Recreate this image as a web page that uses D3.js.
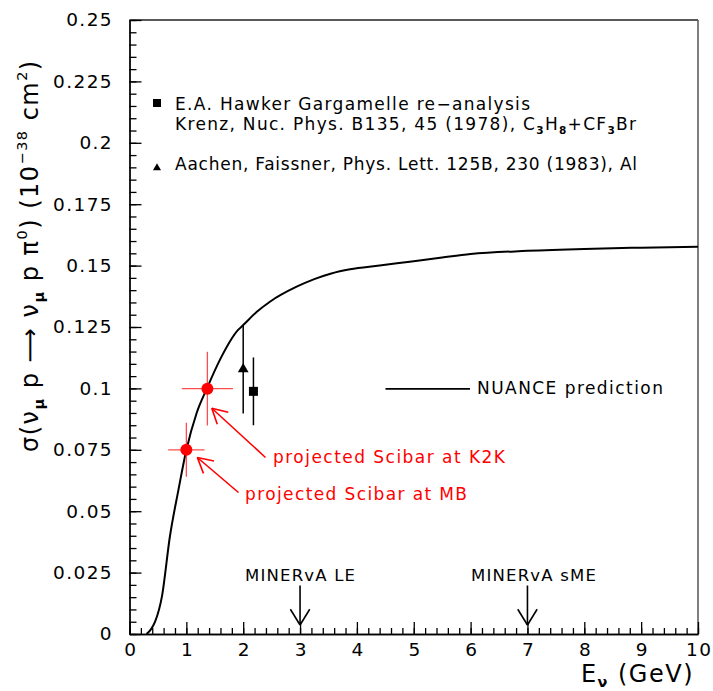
<!DOCTYPE html>
<html><head><meta charset="utf-8">
<script src="https://cdn.jsdelivr.net/npm/d3@7"></script>
<style>
body{margin:0;background:#fff}
svg{display:block}
text{font-family:"DejaVu Sans",sans-serif}
</style>
</head><body>
<svg id="c" width="713" height="691"></svg>
<script>
// ---------- data ----------
const curveE     = [0.30, 0.38, 0.45, 0.57, 0.71, 0.86, 1.00, 1.18, 1.36, 1.59, 1.91, 2.00, 2.24, 2.47, 2.94, 3.25, 3.55, 3.88, 4.40, 4.93, 5.50, 6.00, 7.00, 8.00, 9.00, 10.0];
const curveSigma = [0.000, 0.002, 0.005, 0.0152, 0.0396, 0.0586, 0.0749, 0.0899, 0.0999, 0.1116, 0.1238, 0.1258, 0.1312, 0.1353, 0.1414, 0.1445, 0.1468, 0.1485, 0.1500, 0.1516, 0.1533, 0.1547, 0.1560, 0.1568, 0.1573, 0.1577];

const xTickValues = [0,1,2,3,4,5,6,7,8,9,10];
const xTickLabels = ["0","1","2","3","4","5","6","7","8","9","10"];
const yTickValues = [0,0.025,0.05,0.075,0.1,0.125,0.15,0.175,0.2,0.225,0.25];
const yTickLabels = ["0","0.025","0.05","0.075","0.1","0.125","0.15","0.175","0.2","0.225","0.25"];

const scibarNames    = ["MB","K2K"];
const scibarE        = [1.00, 1.37];
const scibarSigma    = [0.075, 0.0999];
const scibarEErr     = [0.32, 0.45];
const scibarSigmaErr = [0.011, 0.015];
const scibarLabels   = ["projected Scibar at MB","projected Scibar at K2K"];

const hawkerE = [2.18], hawkerSigma = [0.0988], hawkerErr = [0.0138];
const aachenE = [2.00], aachenSigma = [0.1078], aachenErr = [0.018];

const minervaLabels = ["MINERvA LE","MINERvA sME"];
const minervaE = [3, 7];

// ---------- layout ----------
const svg = d3.select("#c");
const X0 = 129.5, X1 = 698, Y0 = 634, Y1 = 20;
const x = d3.scaleLinear().domain([0,10]).range([X0,X1]);
const y = d3.scaleLinear().domain([0,0.25]).range([Y0,Y1]);

// frame
svg.append("line").attr("x1",X0).attr("x2",X1).attr("y1",Y1).attr("y2",Y1).attr("stroke","#222").attr("stroke-width",1.5);
svg.append("line").attr("x1",X1).attr("x2",X1).attr("y1",Y1).attr("y2",Y0).attr("stroke","#555").attr("stroke-width",1.5);

// axes
const tickFont = g => g.selectAll("text").attr("font-family","DejaVu Sans").attr("font-size",18.5).attr("letter-spacing","1.4px").attr("fill","#000");
const xMinor = d3.range(0, 10.001, 0.2);
svg.append("g").attr("transform",`translate(0,${Y0})`)
  .call(d3.axisBottom(x).tickValues(xMinor).tickSize(-6).tickSizeOuter(0).tickFormat(""))
  .call(g=>g.selectAll("line,path").attr("stroke","#000").attr("stroke-width",1.3));
svg.append("g").attr("transform",`translate(0,${Y0})`)
  .call(d3.axisBottom(x).tickValues(xTickValues).tickSize(-12).tickSizeOuter(0).tickPadding(9)
        .tickFormat((d,i)=>xTickLabels[i]))
  .call(g=>g.selectAll("line,path").attr("stroke","#000").attr("stroke-width",1.3))
  .call(tickFont)
  .call(g=>g.selectAll("text").attr("dx","0.7px"));

const yMinor = d3.range(0, 0.2501, 0.005);
svg.append("g").attr("transform",`translate(${X0},0)`)
  .call(d3.axisLeft(y).tickValues(yMinor).tickSize(-7).tickSizeOuter(0).tickFormat(""))
  .call(g=>g.selectAll("line,path").attr("stroke","#000").attr("stroke-width",1.3));
svg.append("g").attr("transform",`translate(${X0},0)`)
  .call(d3.axisLeft(y).tickValues(yTickValues).tickSize(-12).tickSizeOuter(0).tickPadding(16.5)
        .tickFormat((d,i)=>yTickLabels[i]))
  .call(g=>g.selectAll("line,path").attr("stroke","#000").attr("stroke-width",1.3))
  .call(tickFont);

// curve
const curvePts = curveE.map((e,i)=>[e,curveSigma[i]]);
svg.append("path").datum(curvePts)
  .attr("d", d3.line().x(d=>x(d[0])).y(d=>y(d[1])).curve(d3.curveMonotoneX))
  .attr("fill","none").attr("stroke","#000").attr("stroke-width",2);

// Scibar red points
const red = "#ff0000", redLight = "#ff4d4d";
scibarE.forEach((e,i)=>{
  const g = svg.append("g");
  g.append("line").attr("x1",x(e-scibarEErr[i])).attr("x2",x(e+scibarEErr[i]))
    .attr("y1",y(scibarSigma[i])).attr("y2",y(scibarSigma[i])).attr("stroke",redLight).attr("stroke-width",1.3);
  g.append("line").attr("x1",x(e)).attr("x2",x(e))
    .attr("y1",y(scibarSigma[i]-scibarSigmaErr[i])).attr("y2",y(scibarSigma[i]+scibarSigmaErr[i])).attr("stroke",redLight).attr("stroke-width",1.3);
  g.append("circle").attr("cx",x(e)).attr("cy",y(scibarSigma[i])).attr("r",6).attr("fill",red);
});

// Hawker square + Aachen triangle
hawkerE.forEach((e,i)=>{
  svg.append("line").attr("x1",x(e)).attr("x2",x(e)).attr("y1",y(hawkerSigma[i]-hawkerErr[i])).attr("y2",y(hawkerSigma[i]+hawkerErr[i])).attr("stroke","#000").attr("stroke-width",1.5);
  svg.append("rect").attr("x",x(e)-4.5).attr("y",y(hawkerSigma[i])-4.5).attr("width",9).attr("height",9).attr("fill","#000");
});
const tri = d3.symbol().type(d3.symbolTriangle).size(50);
aachenE.forEach((e,i)=>{
  svg.append("line").attr("x1",x(e)).attr("x2",x(e)).attr("y1",y(aachenSigma[i]-aachenErr[i])).attr("y2",y(aachenSigma[i]+aachenErr[i])).attr("stroke","#000").attr("stroke-width",1.5);
  svg.append("path").attr("d",tri()).attr("transform",`translate(${x(e)},${y(aachenSigma[i])})`).attr("fill","#000");
});

// text helper
const legFont = 17, legLS = "1.5px";
function addText(xp, yp, parts, opts={}){
  const t = svg.append("text").attr("x",xp).attr("y",yp).attr("font-size",opts.size||legFont)
    .attr("fill",opts.fill||"#000");
  if(opts.len){ t.attr("textLength",opts.len).attr("lengthAdjust","spacing"); }
  else { t.attr("letter-spacing",opts.ls||legLS); }
  if(opts.anchor) t.attr("text-anchor",opts.anchor);
  if(opts.transform) t.attr("transform",opts.transform);
  const base = opts.size||legFont;
  let pending = 0;
  parts.forEach(p=>{
    if(typeof p === "string"){
      const s = t.append("tspan").text(p);
      if(pending){ s.attr("dy", -pending); pending = 0; }
    } else {
      const s = t.append("tspan").text(p.t).attr("font-size", base*(p.scale||0.62));
      if(p.bold) s.attr("font-weight","bold");
      s.attr("dy", p.dy - pending);
      pending = p.dy;
    }
  });
  return t;
}

// legend
svg.append("rect").attr("x",153).attr("y",99).attr("width",8).attr("height",8).attr("fill","#000");
addText(175,110,["E.A. Hawker Gargamelle re\u2212analysis"],{len:355});
addText(175,130,["Krenz, Nuc. Phys. B135, 45 (1978), C",{t:"3",dy:4,bold:true},"H",{t:"8",dy:4,bold:true},"+CF",{t:"3",dy:4,bold:true},"Br"],{len:461});
svg.append("path").attr("d",d3.symbol().type(d3.symbolTriangle).size(28)()).attr("transform","translate(157,168)").attr("fill","#000");
addText(175,170,["Aachen, Faissner, Phys. Lett. 125B, 230 (1983), Al"],{len:462});

// NUANCE legend
svg.append("line").attr("x1",385.5).attr("x2",470).attr("y1",y(0.1)+0.5).attr("y2",y(0.1)+0.5).attr("stroke","#000").attr("stroke-width",1.6);
addText(477,394,["NUANCE prediction"],{len:186});

// red annotations
const arrowHead = (g, tx, ty, fx, fy, len, ang, col, w)=>{
  const a = Math.atan2(fy-ty, fx-tx);
  [ang,-ang].forEach(s=>{
    g.append("line").attr("x1",tx).attr("y1",ty)
      .attr("x2",tx+len*Math.cos(a+s)).attr("y2",ty+len*Math.sin(a+s))
      .attr("stroke",col).attr("stroke-width",w);
  });
};
const annoText = [[245,500],[273,463]];
const annoLen = [222,232];
const annoTail = [[238.5,492.5],[265.5,457.5]];
const annoTipOff = [[11,7.7],[4.4,19.6]];
scibarE.forEach((e,i)=>{
  const tip = [x(e)+annoTipOff[i][0], y(scibarSigma[i])+annoTipOff[i][1]];
  const g = svg.append("g");
  g.append("line").attr("x1",annoTail[i][0]).attr("y1",annoTail[i][1]).attr("x2",tip[0]).attr("y2",tip[1]).attr("stroke",red).attr("stroke-width",1.6);
  arrowHead(g, tip[0], tip[1], annoTail[i][0], annoTail[i][1], 17, 0.5, red, 1.6);
  addText(annoText[i][0], annoText[i][1], [scibarLabels[i]], {fill:red, len:annoLen[i]});
});

// MINERvA arrows
const minLen = [110,125];
minervaE.forEach((e,i)=>{
  const xp = x(e), g = svg.append("g");
  g.append("line").attr("x1",xp).attr("x2",xp).attr("y1",585.5).attr("y2",625).attr("stroke","#000").attr("stroke-width",1.6);
  arrowHead(g, xp, 625, xp, 585, 18.5, 0.55, "#000", 1.6);
  addText(xp + (i===1?6:0) - minLen[i]/2, 581, [minervaLabels[i]], {size:16.5, len:minLen[i]});
});

// axis titles
addText(694, 682, ["E",{t:"\u03bd",dy:5,scale:0.6,bold:true}," (GeV)"], {anchor:"end", size:24, ls:"1.5px"});
addText(0, 0, ["\u03c3(\u03bd",{t:"\u03bc",dy:6,scale:0.6,bold:true}," p \u27f6 \u03bd",{t:"\u03bc",dy:6,scale:0.6,bold:true}," p \u03c0",{t:"0",dy:-11,scale:0.6},") (10",{t:"\u221238",dy:-11,scale:0.6}," cm",{t:"2",dy:-11,scale:0.6},")"],
  {size:24, ls:"1.5px", transform:"translate(38,452) rotate(-90)"});
</script>
</body></html>
